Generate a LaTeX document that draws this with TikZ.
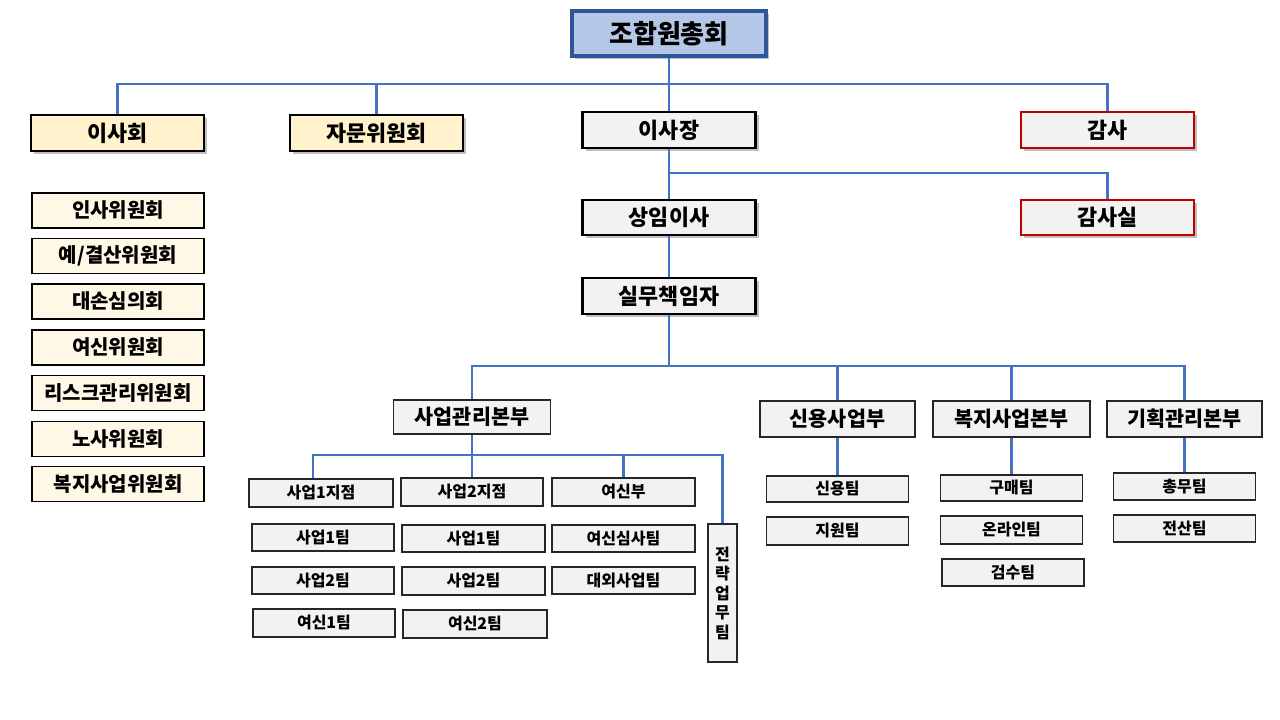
\documentclass[tikz,border=0pt]{standalone}
\usepackage{fontspec}
\newfontfamily\kr{Noto Sans CJK KR}
\usetikzlibrary{shadows}
\definecolor{linkblue}{HTML}{4472C4}
\definecolor{topfill}{HTML}{B4C7E7}
\definecolor{topdraw}{HTML}{2F5597}
\definecolor{yelfill}{HTML}{FFF2CC}
\definecolor{comfill}{HTML}{FFF8E6}
\definecolor{grayfill}{HTML}{F2F2F2}
\definecolor{redline}{HTML}{C00000}
\tikzset{
  box/.style={rectangle, inner sep=0pt, align=center, font=\kr\bfseries},
  shad/.style={drop shadow={shadow xshift=3pt, shadow yshift=-3pt, fill=black!45, opacity=0.55}},
  topbox/.style={box, shad, fill=topfill, draw=topdraw, line width=3.2pt, minimum width=194pt, minimum height=45pt, font=\kr\bfseries\fontsize{26}{30}\selectfont},
  lvbox/.style={box, shad, line width=2.8pt, minimum width=173pt, minimum height=36pt, font=\kr\bfseries\fontsize{21.8}{26}\selectfont},
  yelbox/.style={lvbox, fill=yelfill, draw=black},
  graybox/.style={lvbox, fill=grayfill, draw=black},
  redbox/.style={lvbox, fill=grayfill, draw=redline},
  combox/.style={box, fill=comfill, draw=black, line width=1.3pt, minimum width=172pt, minimum height=35pt, font=\kr\bfseries\fontsize{20}{24}\selectfont},
  divbox/.style={box, fill=grayfill, draw=black!85, line width=1.3pt, minimum width=156pt, minimum height=35pt, font=\kr\bfseries\fontsize{20.7}{25}\selectfont},
  teambox/.style={box, fill=grayfill, draw=black!85, line width=1.3pt, minimum width=143pt, minimum height=27pt, font=\kr\bfseries\fontsize{16}{20}\selectfont},
  link/.style={draw=linkblue, line width=2.5pt}
}
\begin{document}
\begin{tikzpicture}[x=1pt, y=-1pt]
\fill[white] (0,0) rectangle (1280,720);
\useasboundingbox (0,0) rectangle (1280,720);

% top levels
\node[topbox] (top) at (669,33.5) {조합원총회};
\node[yelbox] (isahoe) at (117.5,133) {이사회};
\node[yelbox] (jamun) at (376.5,133) {자문위원회};
\node[graybox] (isajang) at (669,130) {이사장};
\node[redbox] (gamsa) at (1107.5,130) {감사};
\node[graybox, minimum height=35pt] (sangim) at (669,217.5) {상임이사};
\node[redbox, minimum height=35pt] (gamsasil) at (1107.5,217.5) {감사실};
\node[graybox] (silmu) at (669,296) {실무책임자};

% committees
\node[combox] (c1) at (118,210.5) {인사위원회};
\node[combox] (c2) at (118,256) {예/결산위원회};
\node[combox] (c3) at (118,301.5) {대손심의회};
\node[combox] (c4) at (118,347.5) {여신위원회};
\node[combox] (c5) at (118,393) {리스크관리위원회};
\node[combox] (c6) at (118,439) {노사위원회};
\node[combox] (c7) at (118,484) {복지사업위원회};

% divisions
\node[divbox, minimum height=34pt, minimum width=157pt] (saeop) at (472,417) {사업관리본부};
\node[divbox, minimum height=36pt, minimum width=155pt] (sinyong) at (837.5,419) {신용사업부};
\node[divbox, minimum height=36pt, minimum width=157pt] (bokji) at (1011.5,419) {복지사업본부};
\node[divbox, minimum height=36pt, minimum width=155pt] (gihoek) at (1184.5,419) {기획관리본부};

% teams under 사업관리본부
\node[teambox, minimum width=144pt, minimum height=28pt] (b1ji) at (321,493) {사업1지점};
\node[teambox, minimum width=142pt, minimum height=28pt] (b2ji) at (472,492) {사업2지점};
\node[teambox, minimum height=28pt] (yeosinbu) at (623.5,492) {여신부};
\node[teambox, minimum width=142pt] (t11) at (323,537.5) {사업1팀};
\node[teambox, minimum width=142pt] (t12) at (323,580.5) {사업2팀};
\node[teambox, minimum width=142pt, minimum height=28pt] (t13) at (324,623) {여신1팀};
\node[teambox] (t21) at (473.5,538.5) {사업1팀};
\node[teambox, minimum height=28pt] (t22) at (473.5,581) {사업2팀};
\node[teambox, minimum width=144pt, minimum height=28pt] (t23) at (475,624) {여신2팀};
\node[teambox] (t31) at (623.5,538.5) {여신심사팀};
\node[teambox] (t32) at (623.5,580.5) {대외사업팀};
\node[teambox, minimum width=29pt, minimum height=138pt, font=\kr\bfseries\fontsize{16}{19.5}\selectfont] (strat) at (722.5,593) {전\\략\\업\\무\\팀};

% other teams
\node[teambox, minimum width=142pt, minimum height=26pt] (sinyongteam) at (837.5,489) {신용팀};
\node[teambox, minimum width=142pt, minimum height=28pt] (jiwon) at (837.5,531) {지원팀};
\node[teambox, minimum width=142pt, minimum height=26pt] (gumae) at (1011.5,488) {구매팀};
\node[teambox, minimum width=142pt, minimum height=28pt] (online) at (1011.5,530) {온라인팀};
\node[teambox, minimum width=142pt] (gumsu) at (1013,572.5) {검수팀};
\node[teambox, minimum width=142pt] (chongmu) at (1184.5,486.5) {총무팀};
\node[teambox, minimum width=142pt] (jeonsan) at (1184.5,528.5) {전산팀};

% connectors
\coordinate (bus1) at (669,84);
\coordinate (bus2) at (669,173);
\coordinate (bus3) at (669,366);
\coordinate (bus4) at (472,455);
\path[link] (top.south) -- (bus1);
\path[link] (isahoe.north) |- (bus1) -| (gamsa.north);
\path[link] (jamun.north) -- (jamun.north |- bus1);
\path[link] (bus1) -- (isajang.north);
\path[link] (isajang.south) -- (sangim.north);
\path[link] (bus2) -| (gamsasil.north);
\path[link] (sangim.south) -- (silmu.north);
\path[link] (silmu.south) -- (bus3);
\path[link] (saeop.north) |- (bus3) -| (gihoek.north);
\path[link] (sinyong.north) -- (sinyong.north |- bus3);
\path[link] (bokji.north) -- (bokji.north |- bus3);
\path[link] (saeop.south) -- (bus4);
\path[link] ([xshift=-8pt]b1ji.north) |- (bus4) -| (strat.north);
\path[link] (bus4) -- (b2ji.north);
\path[link] (yeosinbu.north) -- (yeosinbu.north |- bus4);
\path[link] (sinyong.south) -- (sinyongteam.north);
\path[link] (bokji.south) -- (gumae.north);
\path[link] (gihoek.south) -- (chongmu.north);
\end{tikzpicture}
\end{document}
